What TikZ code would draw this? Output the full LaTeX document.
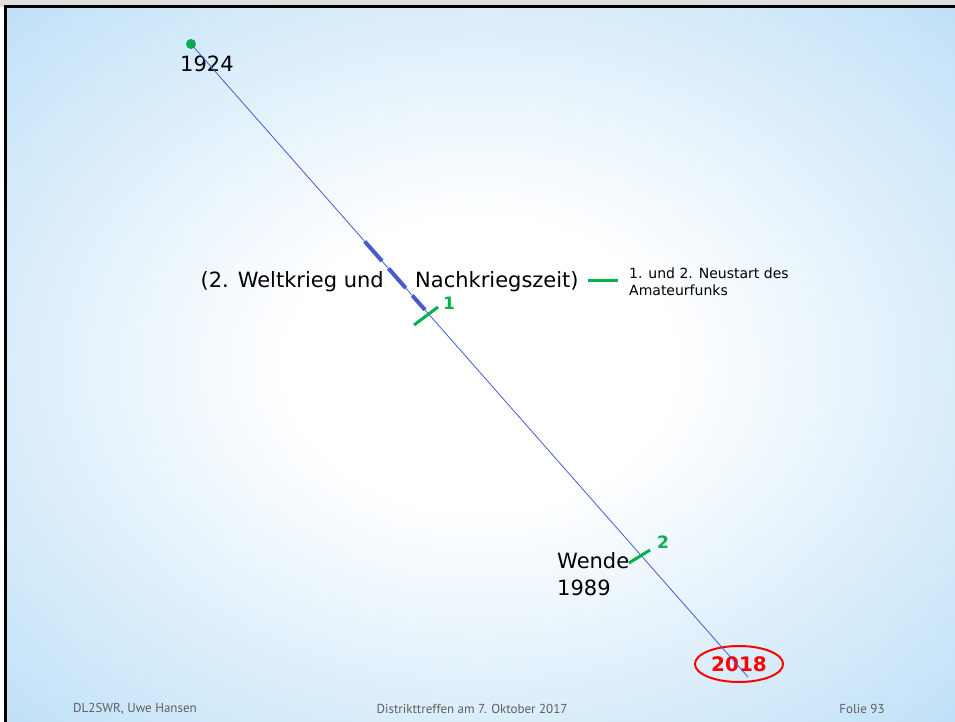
\documentclass[tikz,border=0pt]{standalone}
\usepackage{fontspec}
\setmainfont{DejaVu Sans}
\newfontfamily\footfont{PT Sans}
\usetikzlibrary{calc,positioning,shapes.geometric}

\definecolor{lineblue}{RGB}{70,90,210}
\definecolor{markgreen}{RGB}{0,176,80}
\definecolor{bgpale}{RGB}{215,236,250}
\definecolor{bgblue}{RGB}{176,216,246}
\definecolor{footgray}{RGB}{95,95,95}
\pgfdeclareradialshading{slideshade}{\pgfpoint{0bp}{0bp}}{%
    color(0bp)=(white); color(10bp)=(white); color(26bp)=(bgpale);
    color(42bp)=(bgblue); color(72bp)=(bgblue)}

\begin{document}
\begin{tikzpicture}[x=1pt,y=-1pt]
        \tikzset{
            timetext/.style= {
                inner sep=0pt,
                align=left,
                font=\fontsize{21}{27}\selectfont
            },
            smalltext/.style= {
                inner sep=0pt,
                align=left,
                font=\fontsize{14}{17}\selectfont
            },
            marktext/.style= {
                inner sep=0pt,
                text=markgreen,
                font=\fontsize{17}{20}\selectfont\bfseries
            },
            foottext/.style= {
                inner sep=0pt,
                text=footgray,
                font=\fontsize{13}{15}\footfont
            },
            tickmark/.style= {
                draw=markgreen,
                line width=3pt
            },
        }
\useasboundingbox (0,0) rectangle (955,722);
%% slide background
\fill[gray!25] (0,0) rectangle (955,7);
\fill[white] (0,7) rectangle (5,722);
\shade[shading=slideshade] (5,7) rectangle (955,722);
\draw[black, line width=3pt] (5,722) -- (5,7) -- (955,7);
%% time line
        \node [circle, fill=markgreen, inner sep=0pt, minimum size=10pt] (dot1924) at (191,44) {};
        \coordinate (lineend) at (748,677);
        \node [timetext, anchor=west] (year1924) at (180,64) {1924};
        \coordinate (warA) at ($(dot1924.center)!0.312!(lineend)$);
        \coordinate (warB) at ($(dot1924.center)!0.42!(lineend)$);
        \node [timetext, anchor=east] (weltkrieg) at (384,282) {(2. Weltkrieg und};
        \node [timetext, right=31pt of weltkrieg] (nachkrieg) {Nachkriegszeit)};
        \coordinate (legA) at (588,280);
        \coordinate (legB) at (618,280);
        \node [smalltext, anchor=west] (neustart) at (629,282)
            {1. und 2. Neustart des\\Amateurfunks};
        \coordinate (tickAa) at (414,325);
        \coordinate (tickAb) at (438,307);
        \node [marktext, anchor=south west] (markA) at (443,310) {1};
        \coordinate (tickBa) at (629,563);
        \coordinate (tickBb) at (650,550);
        \node [marktext, anchor=south west] (markB) at (657,549) {2};
        \node [timetext, anchor=north west] (wende) at (557,552) {Wende\\1989};
        \node [draw=red, line width=2pt, ellipse, minimum width=82pt, minimum height=36pt,
            text=red, font=\fontsize{20}{24}\selectfont\bfseries] (year2018) at (739,664) {2018};
%% paths
\draw[lineblue, line width=0.8pt] (dot1924.center) -- (lineend);
\draw[lineblue, line width=4pt, dash pattern=on 26pt off 10pt] (warA) -- (warB);
\path[tickmark]
    (tickAa) edge (tickAb)
    (tickBa) edge (tickBb)
    (legA) edge (legB)
;
%% footer
        \node [foottext] (author) at (135,709) {DL2SWR, Uwe Hansen};
        \node [foottext] (event) at (472,709) {Distrikttreffen am 7. Oktober 2017};
        \node [foottext] (folie) at (862,709) {Folie 93};
\end{tikzpicture}
\end{document}
